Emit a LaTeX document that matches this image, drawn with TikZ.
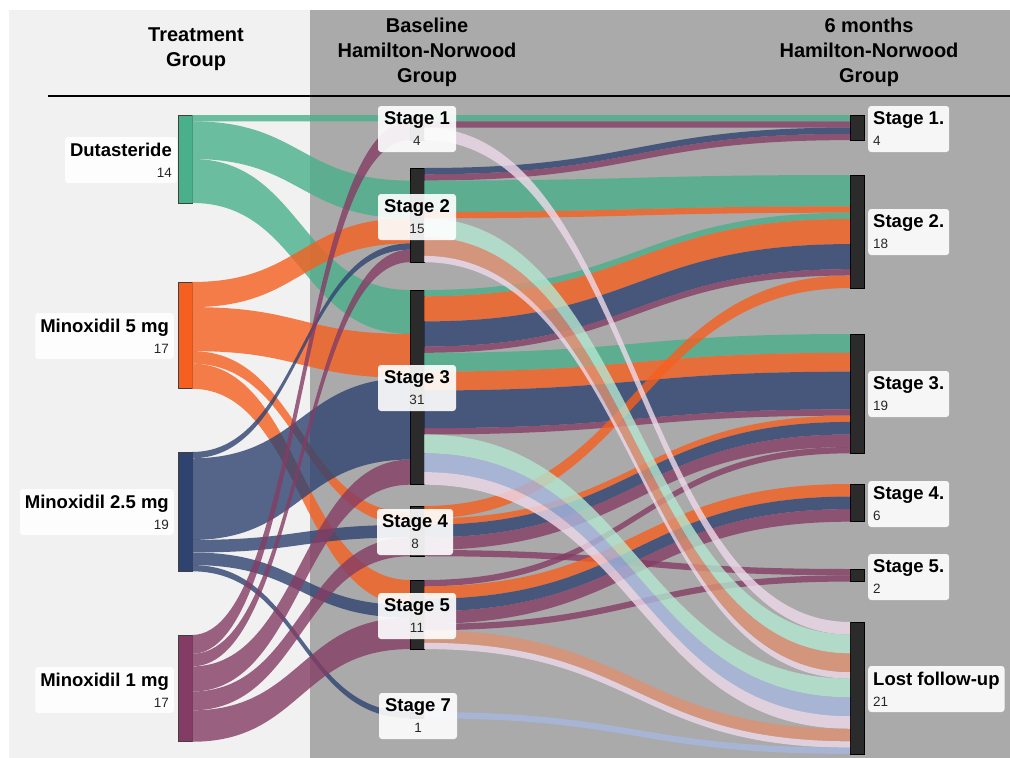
\documentclass[tikz,border=0pt]{standalone}
\usepackage{fontspec}
\setmainfont{Liberation Sans}
\usetikzlibrary{calc}
\definecolor{cg}{RGB}{74,176,139}
\definecolor{co}{RGB}{245,95,32}
\definecolor{cn}{RGB}{47,67,112}
\definecolor{cp}{RGB}{132,60,100}
\definecolor{lg}{RGB}{180,230,208}
\definecolor{ls}{RGB}{222,145,114}
\definecolor{lb}{RGB}{168,183,223}
\definecolor{lp}{RGB}{238,218,234}
\definecolor{bglight}{RGB}{241,241,241}
\definecolor{bgdark}{RGB}{170,170,170}
\definecolor{nodedark}{RGB}{43,43,43}
\def\U{6.28}
\newcommand{\lnk}[6]{%
  \coordinate (a1) at ($(#2.north east)+(0,{(#3)*\U})$);
  \coordinate (a2) at ($(a1)+(0,{(#6)*\U})$);
  \coordinate (b1) at ($(#4.north west)+(0,{(#5)*\U})$);
  \coordinate (b2) at ($(b1)+(0,{(#6)*\U})$);
  \coordinate (mm) at ($(a1)!0.5!(b1)$);
  \fill[#1, fill opacity=0.8] (a1) .. controls (mm|-a1) and (mm|-b1) .. (b1)
    -- (b2) .. controls (mm|-b2) and (mm|-a2) .. (a2) -- cycle;}
\newcommand{\nm}[1]{{\fontsize{13.5}{14}\selectfont\mdseries\color{black!85}#1}}
\tikzset{
  lnode/.style={rectangle, draw=black!75, line width=0.8pt, minimum width=14pt, inner sep=0pt, outer sep=0pt, anchor=north},
  snode/.style={rectangle, fill=nodedark, draw=black, line width=0.5pt, minimum width=14pt, inner sep=0pt, outer sep=0pt, anchor=north},
  lab/.style={fill=white, fill opacity=0.9, text opacity=1, rounded corners=3pt, minimum height=46pt, inner xsep=5pt, inner ysep=0pt, font=\fontsize{18.5}{21}\selectfont\bfseries},
  hdr/.style={anchor=north, align=center, inner sep=0pt, font=\fontsize{20}{25}\selectfont\bfseries}
}
\begin{document}
\begin{tikzpicture}[x=1pt,y=-1pt]
\useasboundingbox (0,0) rectangle (1010,758);
\fill[white] (0,0) rectangle (1010,758);
\fill[bglight] (9,10) rectangle (310,758);
\fill[bgdark] (310,10) rectangle (1010,758);
% headers
\node[hdr] (h1) at (196,28) {Treatment\\Group};
\node[hdr] (h2) at (427,18) {Baseline\\Hamilton-Norwood\\Group};
\node[hdr] (h3) at (869,18) {6 months\\Hamilton-Norwood\\Group};
\coordinate (rl) at (48,96);
\coordinate (rr) at (1010,96);
\draw[line width=1.6pt] (rl) -- (rr);
% left nodes
\node[lnode, fill=cg, minimum height=87.92pt] (dut) at (185,115) {};
\node[lnode, fill=co, minimum height=106.76pt] (mfive) at (185,282) {};
\node[lnode, fill=cn, minimum height=119.32pt] (mtwo) at (185,452) {};
\node[lnode, fill=cp, minimum height=106.76pt] (mone) at (185,635) {};
% middle nodes
\node[snode, minimum height=25.12pt] (sa) at (417,115) {};
\node[snode, minimum height=94.2pt] (sb) at (417,168) {};
\node[snode, minimum height=194.68pt] (sc) at (417,290) {};
\node[snode, minimum height=50.24pt] (sd) at (417,506) {};
\node[snode, minimum height=69.08pt] (se) at (417,580) {};
\node[snode, minimum height=6.28pt] (sg) at (417,712) {};
% right nodes
\node[snode, minimum height=25.12pt] (ra) at (857,115) {};
\node[snode, minimum height=113.04pt] (rb) at (857,175) {};
\node[snode, minimum height=119.32pt] (rc) at (857,334) {};
\node[snode, minimum height=37.68pt] (rd) at (857,484) {};
\node[snode, minimum height=12.56pt] (re) at (857,569) {};
\node[snode, minimum height=131.88pt] (lost) at (857,622) {};
% left -> middle links
\lnk{cg}{dut}{0}{sa}{0}{1}
\lnk{cg}{dut}{1}{sb}{2}{6}
\lnk{cg}{dut}{7}{sc}{0}{7}
\lnk{co}{mfive}{0}{sb}{8}{4}
\lnk{co}{mfive}{4}{sc}{7}{7}
\lnk{co}{mfive}{11}{sd}{1}{2}
\lnk{co}{mfive}{13}{se}{0}{4}
\lnk{cn}{mtwo}{0}{sb}{12}{1}
\lnk{cn}{mtwo}{1}{sc}{14}{13}
\lnk{cn}{mtwo}{14}{sd}{3}{2}
\lnk{cn}{mtwo}{16}{se}{4}{2}
\lnk{cn}{mtwo}{18}{sg}{0}{1}
\lnk{cp}{mone}{0}{sa}{1}{3}
\lnk{cp}{mone}{3}{sb}{13}{2}
\lnk{cp}{mone}{5}{sc}{27}{4}
\lnk{cp}{mone}{9}{sd}{5}{3}
\lnk{cp}{mone}{12}{se}{6}{5}
% middle -> right links
\lnk{cg}{sa}{0}{ra}{0}{1}
\lnk{cp}{sa}{1}{ra}{1}{1}
\lnk{cn}{sb}{0}{ra}{2}{1}
\lnk{cp}{sb}{1}{ra}{3}{1}
\lnk{cg}{sb}{2}{rb}{0}{5}
\lnk{co}{sb}{7}{rb}{5}{1}
\lnk{cg}{sc}{0}{rb}{6}{1}
\lnk{co}{sc}{1}{rb}{7}{4}
\lnk{cn}{sc}{5}{rb}{11}{4}
\lnk{cp}{sc}{9}{rb}{15}{1}
\lnk{cg}{sc}{10}{rc}{0}{3}
\lnk{co}{sc}{13}{rc}{3}{3}
\lnk{cn}{sc}{16}{rc}{6}{6}
\lnk{cp}{sc}{22}{rc}{12}{1}
\lnk{co}{sd}{0}{rb}{16}{2}
\lnk{co}{sd}{2}{rc}{13}{1}
\lnk{cn}{sd}{3}{rc}{14}{2}
\lnk{cp}{sd}{5}{rc}{16}{2}
\lnk{cp}{sd}{7}{re}{0}{1}
\lnk{cp}{se}{0}{rc}{18}{1}
\lnk{co}{se}{1}{rd}{0}{2}
\lnk{cn}{se}{3}{rd}{2}{2}
\lnk{cp}{se}{5}{rd}{4}{2}
\lnk{cp}{se}{7}{re}{1}{1}
% lost follow-up links
\lnk{lp}{sa}{2}{lost}{0}{2}
\lnk{lg}{sb}{8}{lost}{2}{3}
\lnk{ls}{sb}{11}{lost}{5}{3}
\lnk{lp}{sb}{14}{lost}{8}{1}
\lnk{lg}{sc}{23}{lost}{9}{3}
\lnk{lb}{sc}{26}{lost}{12}{3}
\lnk{lp}{sc}{29}{lost}{15}{2}
\lnk{ls}{se}{8}{lost}{17}{2}
\lnk{lp}{se}{10}{lost}{19}{1}
\lnk{lb}{sg}{0}{lost}{20}{1}
% labels
\node[lab, anchor=east, align=right] (ldut) at (177,160) {Dutasteride\\[0pt]\nm{14}};
\node[lab, anchor=east, align=right] (lfive) at (174,336) {Minoxidil 5 mg\\[0pt]\nm{17}};
\node[lab, anchor=east, align=right] (ltwo) at (174,512) {Minoxidil 2.5 mg\\[0pt]\nm{19}};
\node[lab, anchor=east, align=right] (lone) at (174,690) {Minoxidil 1 mg\\[0pt]\nm{17}};
\node[lab, minimum width=78pt, align=center] (lsa) at (417,129) {Stage 1\\[0pt]\nm{4}};
\node[lab, minimum width=78pt, align=center] (lsb) at (417,217) {Stage 2\\[0pt]\nm{15}};
\node[lab, minimum width=78pt, align=center] (lsc) at (417,388) {Stage 3\\[0pt]\nm{31}};
\node[lab, minimum width=76pt, align=center] (lsd) at (415,532) {Stage 4\\[0pt]\nm{8}};
\node[lab, minimum width=78pt, align=center] (lse) at (417,616) {Stage 5\\[0pt]\nm{11}};
\node[lab, minimum width=78pt, align=center] (lsg) at (418,716) {Stage 7\\[0pt]\nm{1}};
\node[lab, anchor=west, align=left, minimum width=81pt] (lra) at (868,129) {Stage 1.\\[0pt]\nm{4}};
\node[lab, anchor=west, align=left, minimum width=81pt] (lrb) at (868,232) {Stage 2.\\[0pt]\nm{18}};
\node[lab, anchor=west, align=left, minimum width=81pt] (lrc) at (868,394) {Stage 3.\\[0pt]\nm{19}};
\node[lab, anchor=west, align=left, minimum width=81pt] (lrd) at (868,504) {Stage 4.\\[0pt]\nm{6}};
\node[lab, anchor=west, align=left, minimum width=81pt] (lre) at (868,577) {Stage 5.\\[0pt]\nm{2}};
\node[lab, anchor=west, align=left] (llost) at (868,689) {Lost follow-up\\[0pt]\nm{21}};
\end{tikzpicture}
\end{document}
